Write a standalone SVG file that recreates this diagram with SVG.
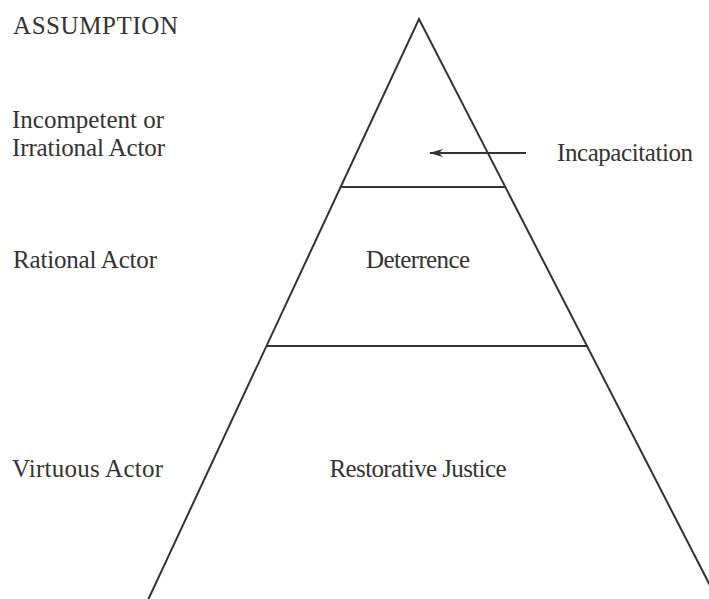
<svg xmlns="http://www.w3.org/2000/svg" width="709" height="599" viewBox="0 0 709 599">
<style>
text{font-family:"Liberation Serif","Times New Roman","DejaVu Serif",serif;font-size:25px;fill:#333}
.ln{stroke:#333;stroke-width:2;fill:none}
</style>
<defs>
<marker id="ah" viewBox="0 0 14 8" refX="13" refY="4" markerWidth="14" markerHeight="8" markerUnits="userSpaceOnUse" orient="auto">
<path d="M0,0 L14,4 L0,8 L4,4 Z" fill="#333"/>
</marker>
</defs>
<rect width="709" height="599" fill="#fff"/>
<g id="pyramid">
<polyline class="ln" points="148,600 419,19 718,601"/>
</g>
<g id="tier-incapacitation">
<line class="ln" x1="341" y1="187" x2="505" y2="187"/>
</g>
<g id="tier-deterrence">
<line class="ln" x1="266" y1="346" x2="587" y2="346"/>
<text x="418" y="268" text-anchor="middle" textLength="104" font-family="Liberation Serif, serif">Deterrence</text>
</g>
<g id="tier-restorative">
<text x="418" y="477" text-anchor="middle" textLength="177" font-family="Liberation Serif, serif">Restorative Justice</text>
</g>
<g id="labels" font-family="Liberation Serif, serif">
<text x="13" y="34" textLength="165">ASSUMPTION</text>
<text x="12" y="128" textLength="152">Incompetent or</text>
<text x="12" y="156" textLength="153">Irrational Actor</text>
<text x="13" y="268" textLength="144">Rational Actor</text>
<text x="12" y="477" textLength="151">Virtuous Actor</text>
<text x="557" y="161" textLength="136">Incapacitation</text>
</g>
<g id="connectors">
<line class="ln" x1="526" y1="153" x2="430" y2="153" marker-end="url(#ah)"/>
</g>
</svg>
